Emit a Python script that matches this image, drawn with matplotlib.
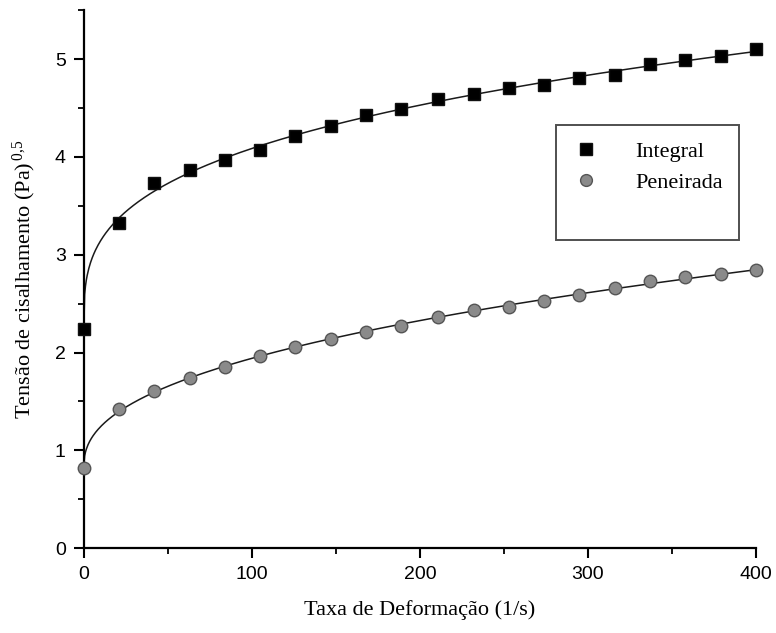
import numpy as np
import matplotlib
matplotlib.use("Agg")
import matplotlib.pyplot as plt
from matplotlib.lines import Line2D
from matplotlib.ticker import MultipleLocator

# taxa de deformacao (1/s)
rate = [0, 21, 42, 63, 84, 105, 126, 147, 168, 189, 211, 232, 253, 274, 295,
        316, 337, 358, 379, 400]

# raiz da tensao de cisalhamento (Pa)^0,5
integral = [2.24, 3.32, 3.73, 3.87, 3.97, 4.07, 4.21, 4.32, 4.43, 4.49, 4.59,
            4.64, 4.70, 4.73, 4.81, 4.84, 4.95, 4.99, 5.03, 5.10]
peneirada = [0.82, 1.42, 1.61, 1.74, 1.85, 1.96, 2.06, 2.14, 2.21, 2.27, 2.36,
             2.43, 2.47, 2.53, 2.59, 2.66, 2.73, 2.77, 2.80, 2.84]


def fit_power(x, y):
    # y = a + b*x^n, n by grid search, a and b by least squares
    x = np.asarray(x, float)
    y = np.asarray(y, float)
    best = None
    for n in np.linspace(0.1, 1.0, 181):
        A = np.column_stack([np.ones_like(x), x ** n])
        coef, res, _, _ = np.linalg.lstsq(A, y, rcond=None)
        err = np.sum((A @ coef - y) ** 2)
        if best is None or err < best[0]:
            best = (err, coef[0], coef[1], n)
    return best[1:]


serif = ["Liberation Serif", "DejaVu Serif"]
sans = ["Liberation Sans", "DejaVu Sans"]
plt.rcParams["mathtext.fontset"] = "custom"
plt.rcParams["mathtext.rm"] = "Liberation Serif"
plt.rcParams["mathtext.it"] = "Liberation Serif:italic"

fig = plt.figure(figsize=(7.76, 6.33), dpi=100)
ax = fig.add_axes([0.108, 0.134, 0.866, 0.850])

xs = np.linspace(0, 400, 800)
for y in (integral, peneirada):
    a, b, n = fit_power(rate, y)
    ax.plot(xs, a + b * xs ** n, color="#1a1a1a", lw=1.1, zorder=2)

ax.plot(rate, integral, ls="none", marker="s", ms=8.5, mfc="black",
        mec="#111111", clip_on=False, zorder=3)
ax.plot(rate, peneirada, ls="none", marker="o", ms=9, mfc="#8a8a8a",
        mec="#555555", mew=1.0, clip_on=False, zorder=3)

ax.set_xlim(0, 400)
ax.set_ylim(0, 5.5)
ax.xaxis.set_major_locator(MultipleLocator(100))
ax.xaxis.set_minor_locator(MultipleLocator(50))
ax.yaxis.set_major_locator(MultipleLocator(1))
ax.yaxis.set_minor_locator(MultipleLocator(0.5))
ax.spines["top"].set_visible(False)
ax.spines["right"].set_visible(False)
for s in ("left", "bottom"):
    ax.spines[s].set_linewidth(1.6)
ax.tick_params(which="major", direction="out", length=7, width=1.5,
               labelsize=14, pad=6)
ax.tick_params(which="minor", direction="out", length=4, width=1.3)
for lab in ax.get_xticklabels() + ax.get_yticklabels():
    lab.set_family(sans)

ax.set_xlabel("Taxa de Deformação (1/s)", family=serif, fontsize=16,
              labelpad=12)
ax.set_ylabel("Tensão de cisalhamento (Pa)$^{\\,\\mathrm{0{,}5}}$",
              family=serif, fontsize=16, labelpad=12)

handles = [
    Line2D([], [], ls="none", marker="s", ms=8, mfc="black", mec="#111111"),
    Line2D([], [], ls="none", marker="o", ms=8.5, mfc="#8a8a8a", mec="#555555"),
    Line2D([], [], ls="none"),
]
leg = ax.legend(handles, ["Integral", "Peneirada", " "], loc="upper left",
                bbox_to_anchor=(556 / 776, 1 - 125 / 633),
                bbox_transform=fig.transFigure, frameon=True, fancybox=False,
                edgecolor="#222222", prop={"family": serif, "size": 16},
                handletextpad=1.6, borderpad=0.75, labelspacing=0.45,
                handlelength=1.2, borderaxespad=0)
leg.get_frame().set_linewidth(1.4)

fig.savefig("out.png", dpi=100, facecolor="white")
